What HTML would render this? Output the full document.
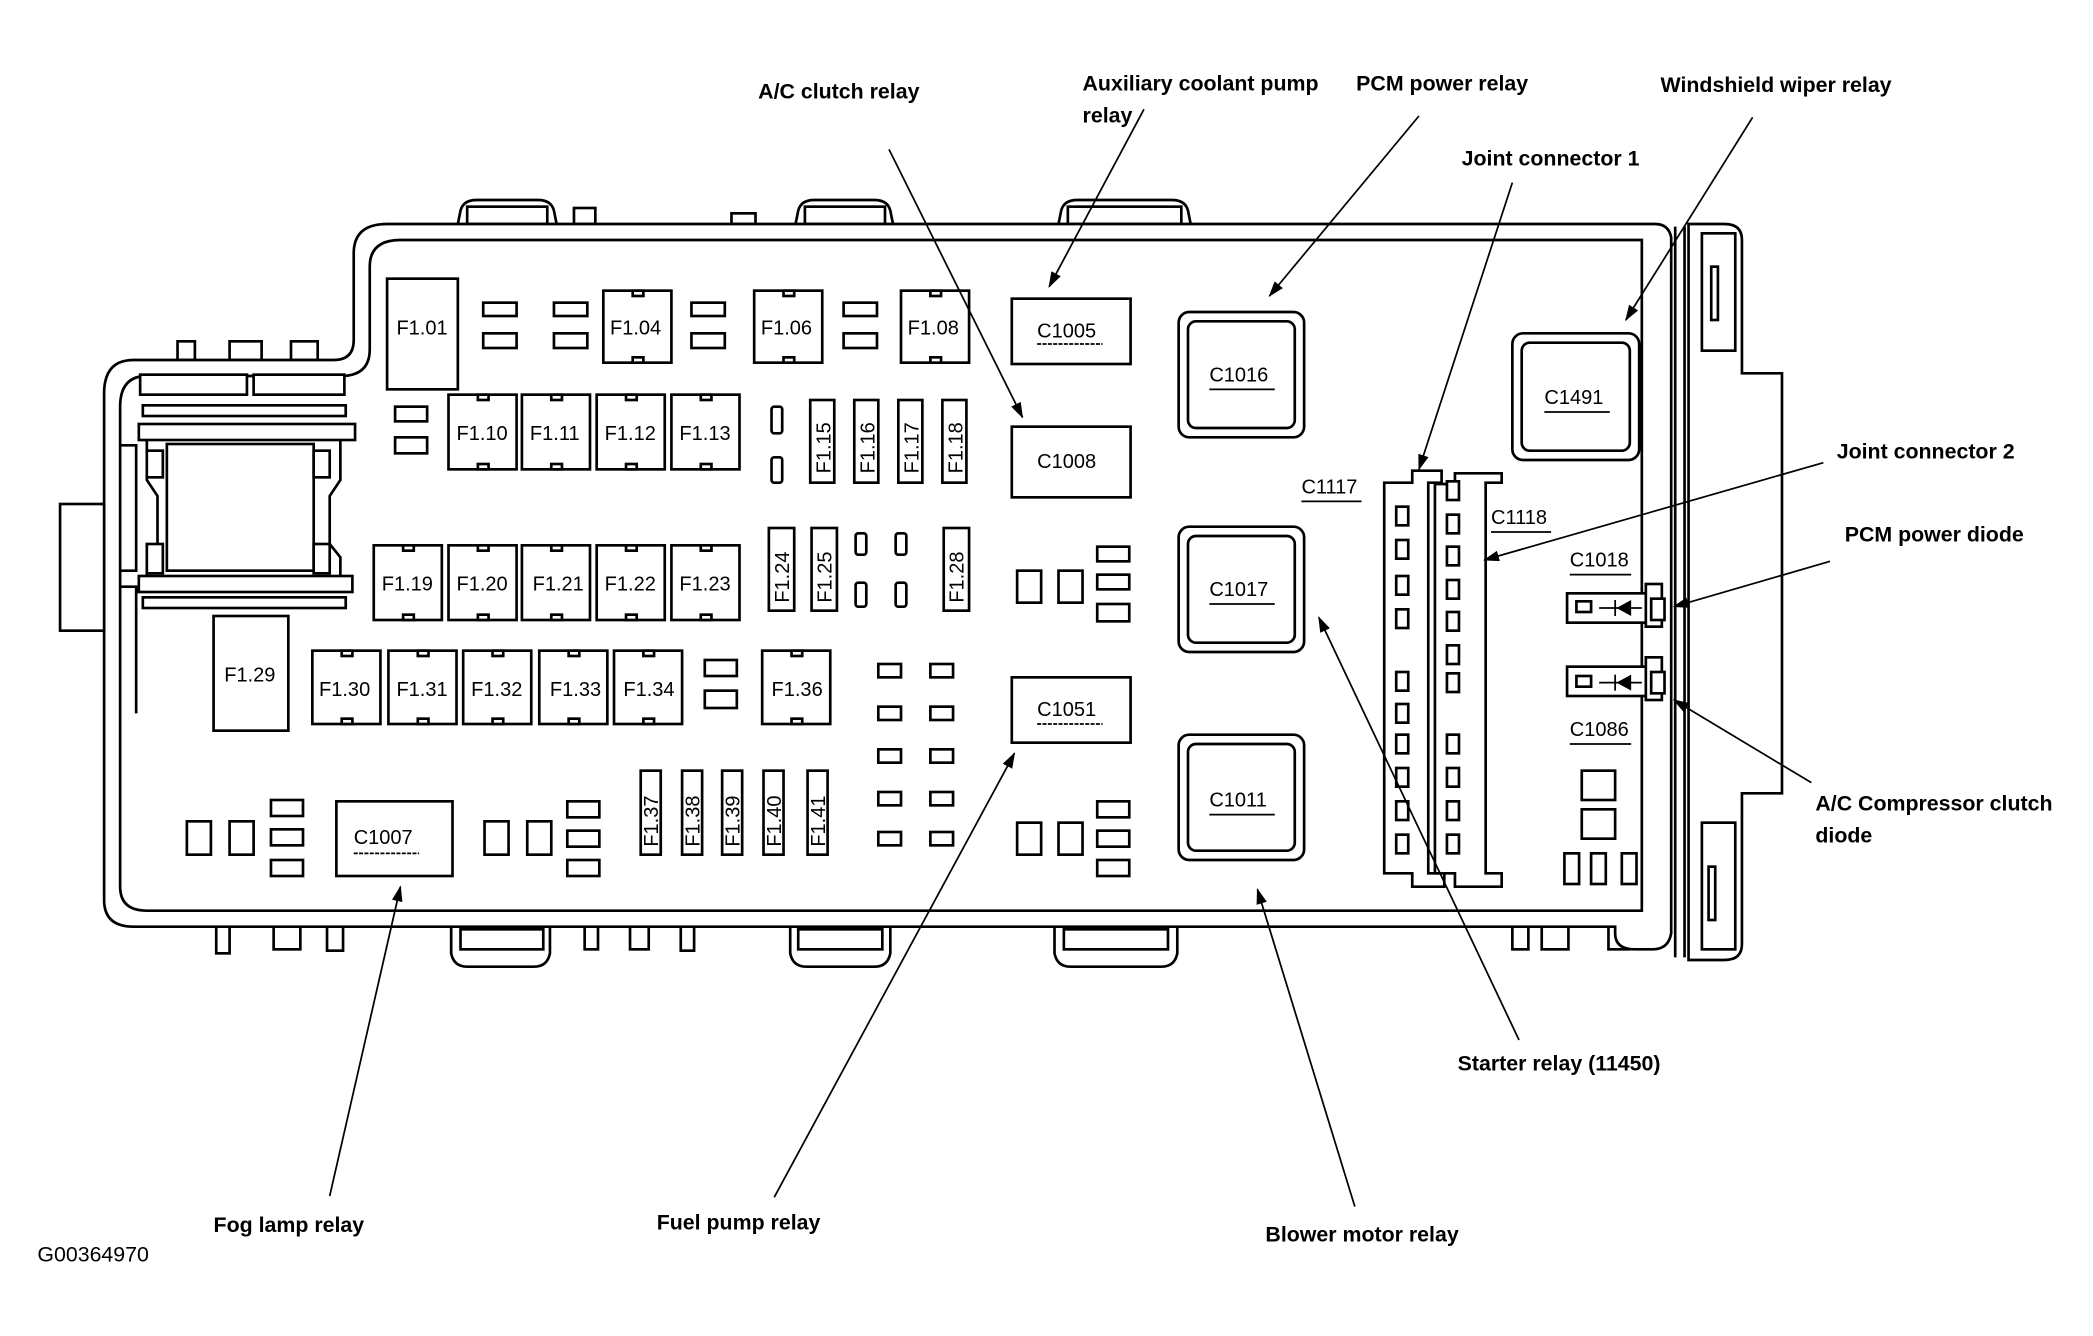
<!DOCTYPE html>
<html><head><meta charset="utf-8"><style>
html,body{margin:0;padding:0;background:#fff;}
svg{display:block;}
text{font-family:"Liberation Sans",sans-serif;fill:#000;}
.b{font-weight:bold;font-size:16px;}
.f{font-size:15px;}
.s{fill:none;stroke:#000;stroke-width:2;}
.t{fill:#fff;stroke:#000;stroke-width:2;}
.a{stroke:#000;stroke-width:1.3;fill:none;}
</style></head><body>
<svg width="2093" height="1336" viewBox="0 0 1568 1002" preserveAspectRatio="none" xmlns="http://www.w3.org/2000/svg">
<defs><marker id="ar" markerWidth="12" markerHeight="8" refX="11" refY="4" orient="auto" markerUnits="userSpaceOnUse"><path d="M0,0 L12,4 L0,8 z" fill="#000"/></marker></defs>

<!-- top tabs -->
<path class="t" d="M343,168 L345,158 Q347,150 357,150 L403,150 Q413,150 415,158 L417,168"/>
<rect class="t" x="350" y="155" width="60" height="13"/>
<path class="t" d="M596,168 L598,158 Q600,150 610,150 L655,150 Q665,150 667,158 L669,168"/>
<rect class="t" x="603" y="155" width="60" height="13"/>
<path class="t" d="M793,168 L795,158 Q797,150 807,150 L878,150 Q888,150 890,158 L892,168"/>
<rect class="t" x="800" y="155" width="85" height="13"/>
<rect class="t" x="430" y="156" width="16" height="12"/>
<rect class="t" x="510" y="174" width="18" height="14"/>
<rect class="t" x="548" y="160" width="18" height="8"/>
<rect class="t" x="1130" y="174" width="15" height="14"/>
<rect class="t" x="1160" y="174" width="18" height="14"/>
<rect class="t" x="1205" y="174" width="15" height="14"/>
<rect class="t" x="133" y="256" width="13" height="14"/>
<rect class="t" x="172" y="256" width="24" height="14"/>
<rect class="t" x="218" y="256" width="20" height="14"/>
<!-- bottom tabs -->
<rect class="t" x="162" y="695" width="10" height="20"/>
<rect class="t" x="205" y="695" width="20" height="17"/>
<rect class="t" x="245" y="695" width="12" height="18"/>
<path class="t" d="M338,695 L338,715 Q340,725 350,725 L400,725 Q410,725 412,715 L412,695"/>
<rect class="t" x="345" y="697" width="62" height="15"/>
<rect class="t" x="438" y="695" width="10" height="17"/>
<rect class="t" x="472" y="695" width="14" height="17"/>
<rect class="t" x="510" y="695" width="10" height="18"/>
<path class="t" d="M592,695 L592,715 Q594,725 604,725 L655,725 Q665,725 667,715 L667,695"/>
<rect class="t" x="598" y="697" width="63" height="15"/>
<path class="t" d="M790,695 L790,715 Q792,725 802,725 L870,725 Q880,725 882,715 L882,695"/>
<rect class="t" x="797" y="697" width="78" height="15"/>
<rect class="t" x="1133" y="695" width="12" height="17"/>
<rect class="t" x="1155" y="695" width="20" height="17"/>
<rect class="t" x="1205" y="695" width="15" height="17"/>

<!-- housing outline -->
<path class="t" d="M78,295 Q78,270 100,270 L250,270 Q265,270 265,255 L265,190 Q265,168 290,168 L1240,168 Q1250,168 1252,178 L1252,700 Q1250,712 1238,712 L1225,712 Q1210,712 1210,700 L1210,695 L100,695 Q78,695 78,675 Z"/>
<path class="s" d="M90,305 Q90,282 110,282 L255,282 Q277,282 277,262 L277,200 Q277,180 300,180 L1230,180 L1230,683 L110,683 Q90,683 90,665 Z"/>
<path class="s" d="M1255,170 L1255,718 M1262,170 L1262,718"/>
<path class="t" d="M1265,168 L1292,168 Q1305,168 1305,180 L1305,280 L1335,280 L1335,595 L1305,595 L1305,708 Q1305,720 1292,720 L1265,720 Z"/>
<rect class="t" x="1275" y="175" width="25" height="88"/>
<rect class="t" x="1282" y="200" width="5" height="40"/>
<rect class="t" x="1275" y="617" width="25" height="95"/>
<rect class="t" x="1280" y="650" width="5" height="40"/>
<rect class="t" x="45" y="378" width="33" height="95"/>

<!-- left cavity -->
<rect class="t" x="105" y="281" width="80" height="15"/>
<rect class="t" x="190" y="281" width="68" height="15"/>
<path class="s" d="M90,334 L102,334 L102,428 L90,428 M90,440 L102,440 L102,535"/>
<rect class="t" x="107" y="304" width="152" height="8"/>
<rect class="t" x="104" y="318" width="162" height="12"/>
<rect class="t" x="104" y="432" width="160" height="12"/>
<rect class="t" x="107" y="448" width="152" height="8"/>
<path class="s" d="M110,330 L110,360 L118,372 L118,408 L110,418 L110,432 M255,330 L255,360 L247,372 L247,408 L255,418 L255,432"/>
<rect class="t" x="125" y="333" width="110" height="95"/>
<rect class="t" x="110" y="338" width="12" height="20"/>
<rect class="t" x="235" y="338" width="12" height="20"/>
<rect class="t" x="110" y="408" width="12" height="22"/>
<rect class="t" x="235" y="408" width="12" height="22"/>

<!-- Row 1 -->
<rect class="t" x="290" y="209" width="53" height="83"/><text class="f" x="297" y="251">F1.01</text>
<rect class="t" x="362" y="227" width="25" height="10"/><rect class="t" x="362" y="250" width="25" height="11"/>
<rect class="t" x="415" y="227" width="25" height="10"/><rect class="t" x="415" y="250" width="25" height="11"/>
<rect class="t" x="518" y="227" width="25" height="10"/><rect class="t" x="518" y="250" width="25" height="11"/>
<rect class="t" x="632" y="227" width="25" height="10"/><rect class="t" x="632" y="250" width="25" height="11"/>
<g>
<rect class="t" x="452" y="218" width="51" height="54"/><rect class="t" x="474" y="218" width="8" height="4"/><rect class="t" x="474" y="268" width="8" height="4"/><text class="f" x="457" y="251">F1.04</text>
<rect class="t" x="565" y="218" width="51" height="54"/><rect class="t" x="587" y="218" width="8" height="4"/><rect class="t" x="587" y="268" width="8" height="4"/><text class="f" x="570" y="251">F1.06</text>
<rect class="t" x="675" y="218" width="51" height="54"/><rect class="t" x="697" y="218" width="8" height="4"/><rect class="t" x="697" y="268" width="8" height="4"/><text class="f" x="680" y="251">F1.08</text>
</g>
<rect class="t" x="758" y="224" width="89" height="49"/><text class="f" x="777" y="253">C1005</text><path class="a" d="M777,258 L826,258" stroke-dasharray="3,1"/>

<!-- Row 2 -->
<rect class="t" x="296" y="305" width="24" height="11"/><rect class="t" x="296" y="328" width="24" height="12"/>
<rect class="t" x="336" y="296" width="51" height="56"/><rect class="t" x="358" y="296" width="8" height="4"/><rect class="t" x="358" y="348" width="8" height="4"/><text class="f" x="342" y="330">F1.10</text>
<rect class="t" x="391" y="296" width="51" height="56"/><rect class="t" x="413" y="296" width="8" height="4"/><rect class="t" x="413" y="348" width="8" height="4"/><text class="f" x="397" y="330">F1.11</text>
<rect class="t" x="447" y="296" width="51" height="56"/><rect class="t" x="469" y="296" width="8" height="4"/><rect class="t" x="469" y="348" width="8" height="4"/><text class="f" x="453" y="330">F1.12</text>
<rect class="t" x="503" y="296" width="51" height="56"/><rect class="t" x="525" y="296" width="8" height="4"/><rect class="t" x="525" y="348" width="8" height="4"/><text class="f" x="509" y="330">F1.13</text>
<rect class="t" x="578" y="305" width="8" height="20" rx="2"/><rect class="t" x="578" y="343" width="8" height="19" rx="2"/>
<rect class="t" x="607" y="300" width="18" height="62"/><text class="f" transform="translate(622,355) rotate(-90)">F1.15</text>
<rect class="t" x="640" y="300" width="18" height="62"/><text class="f" transform="translate(655,355) rotate(-90)">F1.16</text>
<rect class="t" x="673" y="300" width="18" height="62"/><text class="f" transform="translate(688,355) rotate(-90)">F1.17</text>
<rect class="t" x="706" y="300" width="18" height="62"/><text class="f" transform="translate(721,355) rotate(-90)">F1.18</text>
<rect class="t" x="758" y="320" width="89" height="53"/><text class="f" x="777" y="351">C1008</text>

<!-- big relays -->
<rect class="t" x="883" y="234" width="94" height="94" rx="8"/><rect class="t" x="890" y="241" width="80" height="80" rx="6"/><text class="f" x="906" y="286">C1016</text><path class="a" d="M906,292 L955,292"/>
<rect class="t" x="883" y="395" width="94" height="94" rx="8"/><rect class="t" x="890" y="402" width="80" height="80" rx="6"/><text class="f" x="906" y="447">C1017</text><path class="a" d="M906,453 L955,453"/>
<rect class="t" x="883" y="551" width="94" height="94" rx="8"/><rect class="t" x="890" y="558" width="80" height="80" rx="6"/><text class="f" x="906" y="605">C1011</text><path class="a" d="M906,611 L955,611"/>
<rect class="t" x="1133" y="250" width="95" height="95" rx="8"/><rect class="t" x="1140" y="257" width="81" height="81" rx="6"/><text class="f" x="1157" y="303">C1491</text><path class="a" d="M1157,309 L1206,309"/>

<!-- Row 3 -->
<rect class="t" x="280" y="409" width="51" height="56"/><rect class="t" x="302" y="409" width="8" height="4"/><rect class="t" x="302" y="461" width="8" height="4"/><text class="f" x="286" y="443">F1.19</text>
<rect class="t" x="336" y="409" width="51" height="56"/><rect class="t" x="358" y="409" width="8" height="4"/><rect class="t" x="358" y="461" width="8" height="4"/><text class="f" x="342" y="443">F1.20</text>
<rect class="t" x="391" y="409" width="51" height="56"/><rect class="t" x="413" y="409" width="8" height="4"/><rect class="t" x="413" y="461" width="8" height="4"/><text class="f" x="399" y="443">F1.21</text>
<rect class="t" x="447" y="409" width="51" height="56"/><rect class="t" x="469" y="409" width="8" height="4"/><rect class="t" x="469" y="461" width="8" height="4"/><text class="f" x="453" y="443">F1.22</text>
<rect class="t" x="503" y="409" width="51" height="56"/><rect class="t" x="525" y="409" width="8" height="4"/><rect class="t" x="525" y="461" width="8" height="4"/><text class="f" x="509" y="443">F1.23</text>
<rect class="t" x="576" y="396" width="19" height="62"/><text class="f" transform="translate(591,452) rotate(-90)">F1.24</text>
<rect class="t" x="608" y="396" width="19" height="62"/><text class="f" transform="translate(623,452) rotate(-90)">F1.25</text>
<rect class="t" x="641" y="400" width="8" height="16" rx="2"/><rect class="t" x="641" y="437" width="8" height="18" rx="2"/>
<rect class="t" x="671" y="400" width="8" height="16" rx="2"/><rect class="t" x="671" y="437" width="8" height="18" rx="2"/>
<rect class="t" x="707" y="396" width="19" height="62"/><text class="f" transform="translate(722,452) rotate(-90)">F1.28</text>
<rect class="t" x="762" y="428" width="18" height="24"/><rect class="t" x="793" y="428" width="18" height="24"/>
<rect class="t" x="822" y="410" width="24" height="11"/><rect class="t" x="822" y="431" width="24" height="11"/><rect class="t" x="822" y="453" width="24" height="13"/>

<!-- Row 4 -->
<rect class="t" x="160" y="462" width="56" height="86"/><text class="f" x="168" y="511">F1.29</text>
<rect class="t" x="234" y="488" width="51" height="55"/><rect class="t" x="256" y="488" width="8" height="4"/><rect class="t" x="256" y="539" width="8" height="4"/><text class="f" x="239" y="522">F1.30</text>
<rect class="t" x="291" y="488" width="51" height="55"/><rect class="t" x="313" y="488" width="8" height="4"/><rect class="t" x="313" y="539" width="8" height="4"/><text class="f" x="297" y="522">F1.31</text>
<rect class="t" x="347" y="488" width="51" height="55"/><rect class="t" x="369" y="488" width="8" height="4"/><rect class="t" x="369" y="539" width="8" height="4"/><text class="f" x="353" y="522">F1.32</text>
<rect class="t" x="404" y="488" width="51" height="55"/><rect class="t" x="426" y="488" width="8" height="4"/><rect class="t" x="426" y="539" width="8" height="4"/><text class="f" x="412" y="522">F1.33</text>
<rect class="t" x="460" y="488" width="51" height="55"/><rect class="t" x="482" y="488" width="8" height="4"/><rect class="t" x="482" y="539" width="8" height="4"/><text class="f" x="467" y="522">F1.34</text>
<rect class="t" x="528" y="495" width="24" height="12"/><rect class="t" x="528" y="518" width="24" height="13"/>
<rect class="t" x="571" y="488" width="51" height="55"/><rect class="t" x="593" y="488" width="8" height="4"/><rect class="t" x="593" y="539" width="8" height="4"/><text class="f" x="578" y="522">F1.36</text>
<g>
<rect class="t" x="658" y="498" width="17" height="10"/><rect class="t" x="697" y="498" width="17" height="10"/>
<rect class="t" x="658" y="530" width="17" height="10"/><rect class="t" x="697" y="530" width="17" height="10"/>
<rect class="t" x="658" y="562" width="17" height="10"/><rect class="t" x="697" y="562" width="17" height="10"/>
<rect class="t" x="658" y="594" width="17" height="10"/><rect class="t" x="697" y="594" width="17" height="10"/>
<rect class="t" x="658" y="624" width="17" height="10"/><rect class="t" x="697" y="624" width="17" height="10"/>
</g>
<rect class="t" x="758" y="508" width="89" height="49"/><text class="f" x="777" y="537">C1051</text><path class="a" d="M777,543 L826,543" stroke-dasharray="3,1"/>

<!-- Row 5 -->
<rect class="t" x="140" y="616" width="18" height="25"/><rect class="t" x="172" y="616" width="18" height="25"/>
<rect class="t" x="203" y="600" width="24" height="12"/><rect class="t" x="203" y="622" width="24" height="12"/><rect class="t" x="203" y="645" width="24" height="12"/>
<rect class="t" x="252" y="601" width="87" height="56"/><text class="f" x="265" y="633">C1007</text><path class="a" d="M265,640 L314,640" stroke-dasharray="3,1"/>
<rect class="t" x="363" y="616" width="18" height="25"/><rect class="t" x="395" y="616" width="18" height="25"/>
<rect class="t" x="425" y="601" width="24" height="12"/><rect class="t" x="425" y="623" width="24" height="12"/><rect class="t" x="425" y="645" width="24" height="12"/>
<rect class="t" x="480" y="578" width="15" height="63"/><text class="f" transform="translate(493,635) rotate(-90)">F1.37</text>
<rect class="t" x="511" y="578" width="15" height="63"/><text class="f" transform="translate(524,635) rotate(-90)">F1.38</text>
<rect class="t" x="541" y="578" width="15" height="63"/><text class="f" transform="translate(554,635) rotate(-90)">F1.39</text>
<rect class="t" x="572" y="578" width="15" height="63"/><text class="f" transform="translate(585,635) rotate(-90)">F1.40</text>
<rect class="t" x="605" y="578" width="15" height="63"/><text class="f" transform="translate(618,635) rotate(-90)">F1.41</text>
<rect class="t" x="762" y="617" width="18" height="24"/><rect class="t" x="793" y="617" width="18" height="24"/>
<rect class="t" x="822" y="601" width="24" height="12"/><rect class="t" x="822" y="623" width="24" height="12"/><rect class="t" x="822" y="645" width="24" height="12"/>

<!-- joint connectors -->
<path class="t" d="M1058,353 L1080,353 L1080,362 L1070,362 L1070,655 L1082,655 L1082,665 L1058,665 L1058,655 L1037,655 L1037,362 L1058,362 Z"/>
<path class="t" d="M1075,363 L1090,363 L1090,355 L1125,355 L1125,362 L1113,362 L1113,655 L1125,655 L1125,665 L1090,665 L1090,655 L1075,655 Z"/>
<g class="t">
<rect class="t" x="1046" y="380" width="9" height="14"/><rect class="t" x="1046" y="405" width="9" height="14"/><rect class="t" x="1046" y="432" width="9" height="14"/><rect class="t" x="1046" y="457" width="9" height="14"/>
<rect class="t" x="1046" y="504" width="9" height="14"/><rect class="t" x="1046" y="528" width="9" height="14"/><rect class="t" x="1046" y="551" width="9" height="14"/><rect class="t" x="1046" y="576" width="9" height="14"/><rect class="t" x="1046" y="601" width="9" height="14"/><rect class="t" x="1046" y="626" width="9" height="14"/>
<rect class="t" x="1084" y="361" width="9" height="14"/><rect class="t" x="1084" y="386" width="9" height="14"/><rect class="t" x="1084" y="410" width="9" height="14"/><rect class="t" x="1084" y="435" width="9" height="14"/><rect class="t" x="1084" y="459" width="9" height="14"/><rect class="t" x="1084" y="484" width="9" height="14"/><rect class="t" x="1084" y="505" width="9" height="14"/>
<rect class="t" x="1084" y="551" width="9" height="14"/><rect class="t" x="1084" y="576" width="9" height="14"/><rect class="t" x="1084" y="601" width="9" height="14"/><rect class="t" x="1084" y="626" width="9" height="14"/>
</g>
<text class="f" x="975" y="370">C1117</text><path class="a" d="M975,376 L1020,376"/>
<text class="f" x="1117" y="393">C1118</text><path class="a" d="M1117,399 L1162,399"/>
<text class="f" x="1176" y="425">C1018</text><path class="a" d="M1176,431 L1222,431"/>
<text class="f" x="1176" y="552">C1086</text><path class="a" d="M1176,558 L1222,558"/>
<!-- diodes -->
<g>
<rect class="t" x="1174" y="445" width="64" height="22"/><rect class="t" x="1233" y="438" width="12" height="32"/><rect class="t" x="1237" y="449" width="10" height="16"/><rect class="t" x="1181" y="451" width="11" height="8"/>
<path class="a" d="M1198,456 L1230,456 M1210,450 L1210,462"/><path d="M1211,456 L1222,450 L1222,462 Z" fill="#000"/>
</g>
<g>
<rect class="t" x="1174" y="500" width="64" height="22"/><rect class="t" x="1233" y="493" width="12" height="32"/><rect class="t" x="1237" y="504" width="10" height="16"/><rect class="t" x="1181" y="507" width="11" height="8"/>
<path class="a" d="M1198,512 L1230,512 M1210,506 L1210,518"/><path d="M1211,512 L1222,506 L1222,518 Z" fill="#000"/>
</g>
<rect class="t" x="1185" y="578" width="25" height="22"/><rect class="t" x="1185" y="607" width="25" height="22"/>
<rect class="t" x="1172" y="640" width="11" height="23"/><rect class="t" x="1192" y="640" width="11" height="23"/><rect class="t" x="1215" y="640" width="11" height="23"/>

<!-- callout lines -->
<g marker-end="url(#ar)">
<path class="a" d="M666,112 L766,313"/>
<path class="a" d="M857,82 L786,215"/>
<path class="a" d="M1063,87 L951,222"/>
<path class="a" d="M1313,88 L1218,240"/>
<path class="a" d="M1133,137 L1063,352"/>
<path class="a" d="M1366,347 L1112,420"/>
<path class="a" d="M1371,421 L1254,455"/>
<path class="a" d="M1357,587 L1254,525"/>
<path class="a" d="M1138,780 L988,463"/>
<path class="a" d="M1015,905 L942,667"/>
<path class="a" d="M580,898 L760,565"/>
<path class="a" d="M247,897 L300,665"/>
</g>

<!-- labels -->
<text class="b" x="568" y="74">A/C clutch relay</text>
<text class="b" x="811" y="68">Auxiliary coolant pump</text>
<text class="b" x="811" y="92">relay</text>
<text class="b" x="1016" y="68">PCM power relay</text>
<text class="b" x="1244" y="69">Windshield wiper relay</text>
<text class="b" x="1095" y="124">Joint connector 1</text>
<text class="b" x="1376" y="344">Joint connector 2</text>
<text class="b" x="1382" y="406">PCM power diode</text>
<text class="b" x="1360" y="608">A/C Compressor clutch</text>
<text class="b" x="1360" y="632">diode</text>
<text class="b" x="1092" y="803">Starter relay (11450)</text>
<text class="b" x="948" y="931">Blower motor relay</text>
<text class="b" x="492" y="922">Fuel pump relay</text>
<text class="b" x="160" y="924">Fog lamp relay</text>
<text class="f" x="28" y="946" style="font-size:16px">G00364970</text>
</svg>
</body></html>
